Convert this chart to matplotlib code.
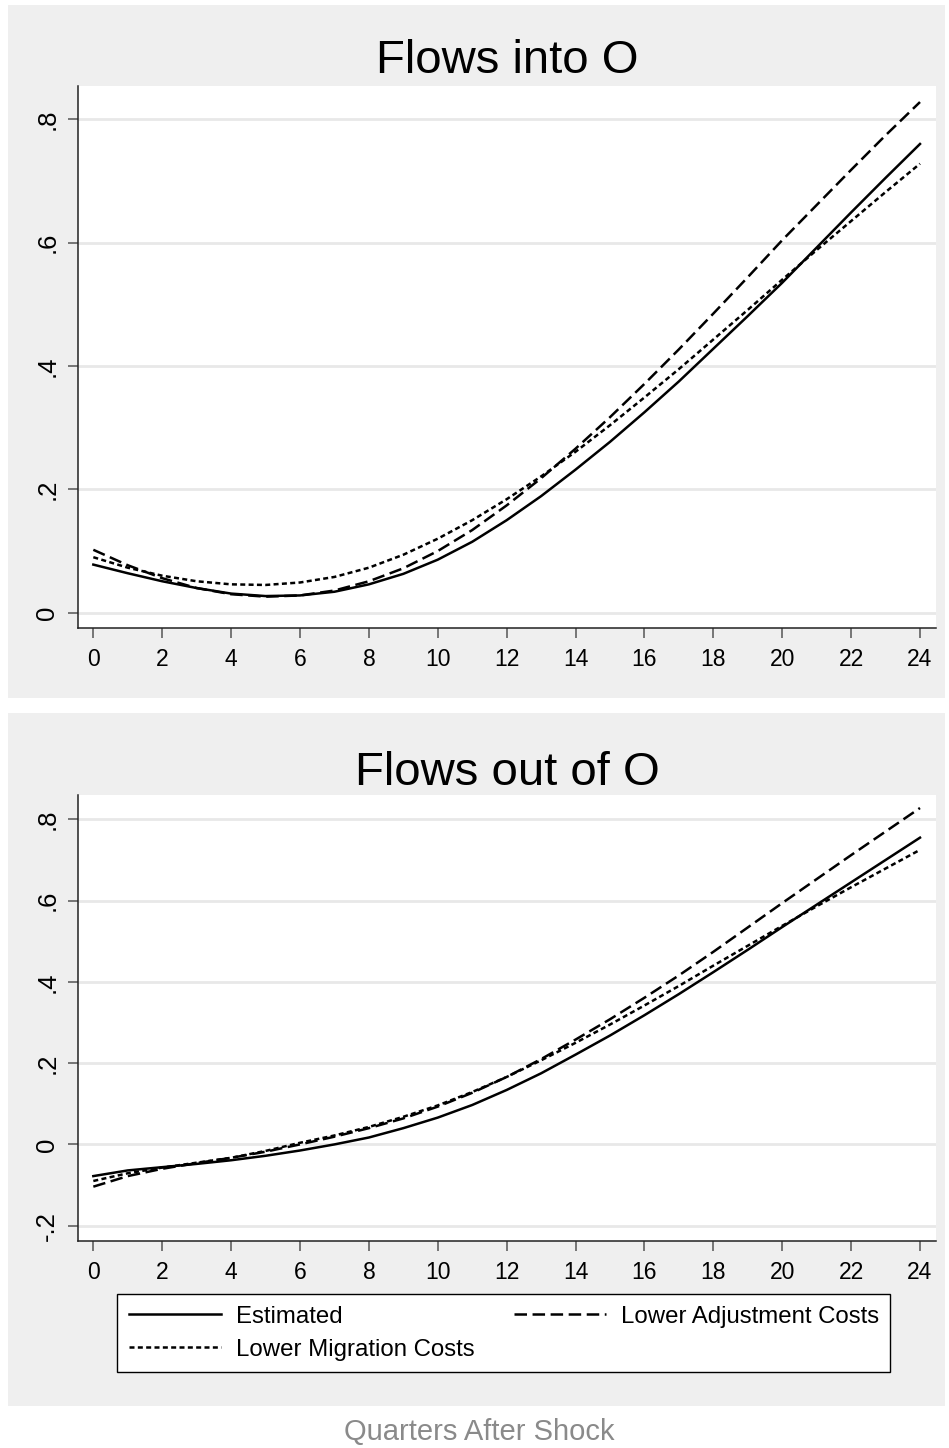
import matplotlib
matplotlib.use("Agg")
import matplotlib.pyplot as plt
from matplotlib.patches import Rectangle
import numpy as np

plt.rcParams['font.family'] = ['Liberation Sans', 'DejaVu Sans']
plt.rcParams['lines.scale_dashes'] = False

quarters = list(range(25))

into_estimated = [0.078, 0.064, 0.051, 0.040, 0.031, 0.027, 0.028, 0.034, 0.046, 0.063,
                  0.086, 0.115, 0.150, 0.189, 0.232, 0.277, 0.325, 0.375, 0.428, 0.481,
                  0.535, 0.592, 0.649, 0.705, 0.760]
into_lower_adj = [0.102, 0.077, 0.056, 0.040, 0.030, 0.026, 0.028, 0.036, 0.051, 0.072,
                  0.100, 0.134, 0.174, 0.218, 0.266, 0.317, 0.371, 0.427, 0.485, 0.544,
                  0.604, 0.661, 0.718, 0.774, 0.828]
into_lower_mig = [0.090, 0.073, 0.060, 0.051, 0.046, 0.045, 0.049, 0.058, 0.073, 0.094,
                  0.120, 0.150, 0.184, 0.221, 0.261, 0.304, 0.349, 0.395, 0.443, 0.491,
                  0.540, 0.588, 0.635, 0.682, 0.728]

out_estimated = [-0.078, -0.064, -0.056, -0.048, -0.039, -0.028, -0.015, 0.000, 0.017, 0.040,
                 0.066, 0.097, 0.134, 0.175, 0.221, 0.268, 0.318, 0.370, 0.424, 0.479,
                 0.535, 0.590, 0.645, 0.700, 0.755]
out_lower_adj = [-0.104, -0.078, -0.060, -0.046, -0.033, -0.018, 0.000, 0.019, 0.040, 0.064,
                 0.093, 0.127, 0.166, 0.210, 0.258, 0.308, 0.361, 0.416, 0.474, 0.534,
                 0.594, 0.653, 0.712, 0.770, 0.828]
out_lower_mig = [-0.090, -0.071, -0.057, -0.045, -0.033, -0.016, 0.004, 0.022, 0.043, 0.068,
                 0.096, 0.129, 0.166, 0.207, 0.250, 0.295, 0.342, 0.390, 0.440, 0.489,
                 0.538, 0.586, 0.633, 0.679, 0.725]

titles = ["Flows into O", "Flows out of O"]
series_labels = ["Estimated", "Lower Migration Costs", "Lower Adjustment Costs"]
xticks = list(range(0, 25, 2))
yticks_top = [0, 0.2, 0.4, 0.6, 0.8]
ytick_labels_top = ["0", ".2", ".4", ".6", ".8"]
yticks_bot = [-0.2, 0, 0.2, 0.4, 0.6, 0.8]
ytick_labels_bot = ["-.2", "0", ".2", ".4", ".6", ".8"]
xlabel = "Quarters After Shock"

W, H = 949, 1448
fig = plt.figure(figsize=(W / 100, H / 100), dpi=100)
fig.patch.set_facecolor('white')

def fx(px):
    return px / W

def fy(py):
    return 1 - py / H

panel_bg = '#efefef'
for top, bot in [(5, 698), (713, 1406)]:
    fig.patches.append(Rectangle((fx(8), fy(bot)), fx(945) - fx(8), fy(top) - fy(bot),
                                 transform=fig.transFigure, facecolor=panel_bg,
                                 edgecolor='none', zorder=-5))

ax_specs = [
    dict(top=86, bot=627.7, ylim=(-0.0243, 0.854), yt=yticks_top, ytl=ytick_labels_top,
         data=(into_estimated, into_lower_mig, into_lower_adj), title_y=72.7),
    dict(top=795, bot=1240.7, ylim=(-0.237, 0.860), yt=yticks_bot, ytl=ytick_labels_bot,
         data=(out_estimated, out_lower_mig, out_lower_adj), title_y=785),
]

styles = ['-', (0, (3.6, 2.4)), (0, (9.0, 4.0))]
handles = None
for i, spec in enumerate(ax_specs):
    ax = fig.add_axes([fx(78), fy(spec['bot']), fx(935.7) - fx(78), fy(spec['top']) - fy(spec['bot'])])
    ax.set_facecolor('white')
    hs = []
    for vals, ls, lab in zip(spec['data'], styles, series_labels):
        h, = ax.plot(quarters, vals, color='black', linestyle=ls, linewidth=1.8, label=lab)
        hs.append(h)
    handles = hs
    ax.set_xlim(-0.445, 24.456)
    ax.set_ylim(*spec['ylim'])
    ax.set_xticks(xticks)
    ax.set_xticklabels([str(t) for t in xticks], fontsize=16.5)
    ax.set_yticks(spec['yt'])
    ax.set_yticklabels(spec['ytl'], rotation=90, va='center', fontsize=18.5)
    ax.grid(axis='y', color='#e8e8e8', linewidth=2.0)
    ax.set_axisbelow(True)
    for s in ['top', 'right']:
        ax.spines[s].set_visible(False)
    for s in ['left', 'bottom']:
        ax.spines[s].set_color('#222222')
        ax.spines[s].set_linewidth(1.1)
    ax.tick_params(axis='both', length=7.2, width=1.1, color='#555555', labelcolor='black')
    ax.tick_params(axis='x', pad=7.5)
    ax.tick_params(axis='y', pad=6.3)
    fig.text(fx(506.9), fy(spec['title_y']), titles[i], ha='center', va='baseline', fontsize=34)

leg = fig.legend(handles=handles, labels=series_labels, ncol=2,
                 loc='upper left', bbox_to_anchor=(fx(117.3), fy(1294.3)),
                 borderaxespad=0, fontsize=17.3, frameon=True, fancybox=False,
                 edgecolor='black', facecolor='white', framealpha=1,
                 handlelength=3.85, handletextpad=0.6, columnspacing=1.64,
                 borderpad=0.48, labelspacing=0.45)
leg.get_frame().set_linewidth(1.0)

fig.text(fx(479), fy(1432), xlabel, ha='center', va='center', fontsize=21, color='#8a8a8a')

fig.savefig('out.png', dpi=100, facecolor='white')
